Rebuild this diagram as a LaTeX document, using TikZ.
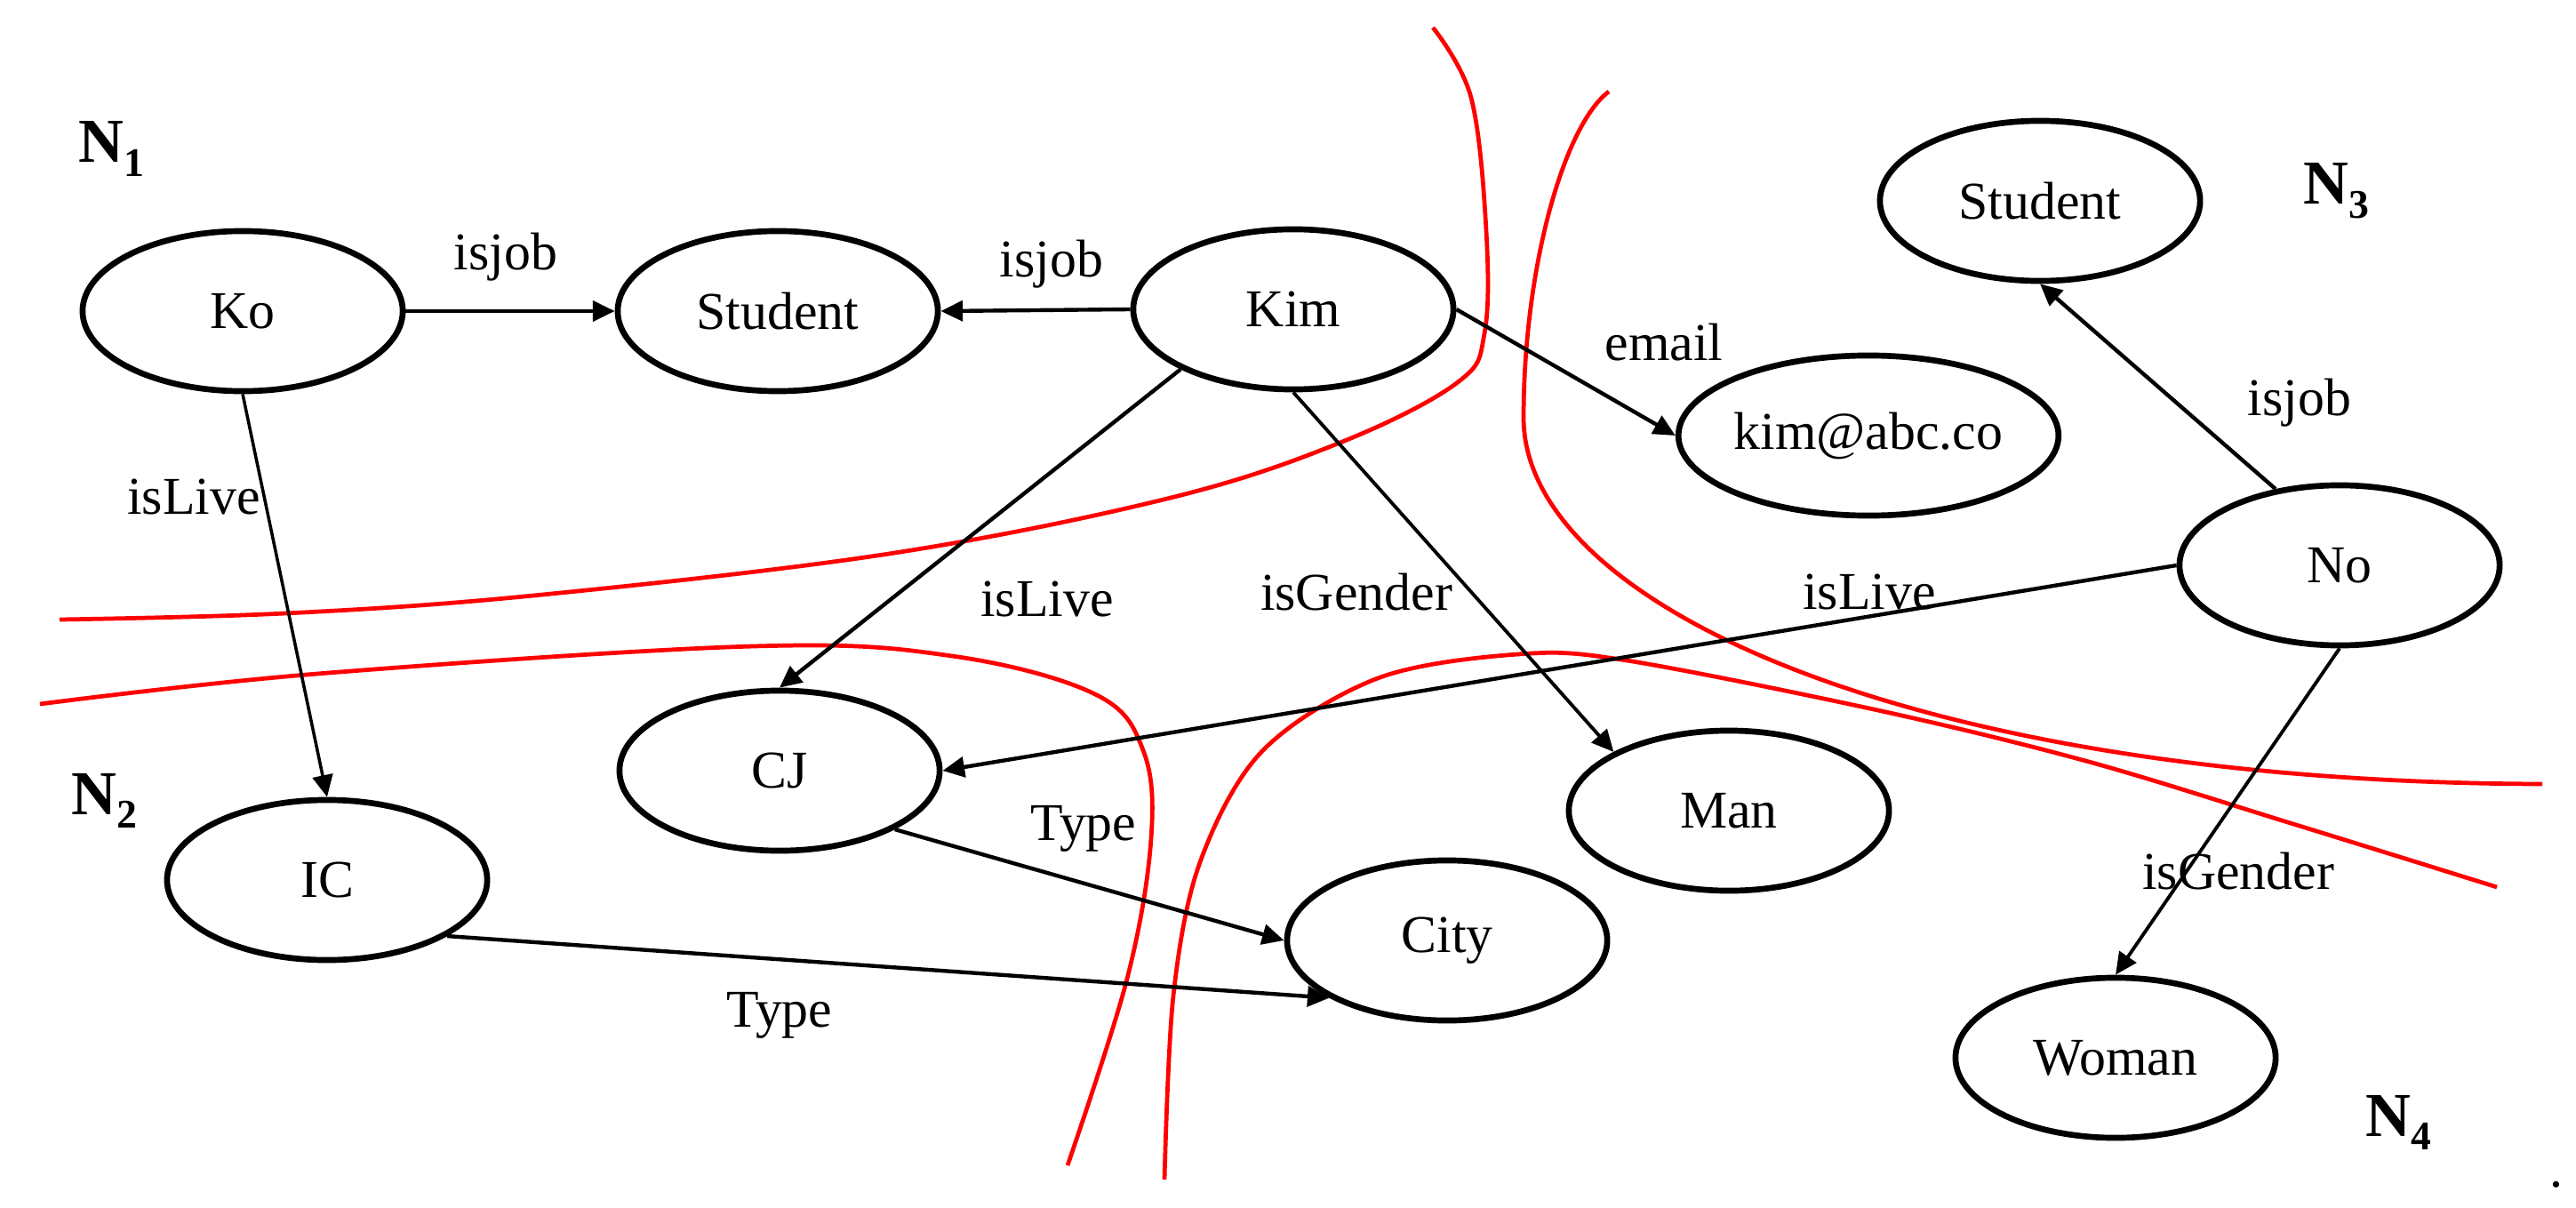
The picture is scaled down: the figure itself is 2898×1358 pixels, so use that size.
\documentclass[tikz,border=0pt]{standalone}
\usepackage{fontspec}
\setmainfont{Liberation Serif}
\usetikzlibrary{shapes.geometric,arrows.meta}
\begin{document}
\begin{tikzpicture}[x=0.01cm,y=-0.01cm,
 ent/.style={ellipse,draw,line width=1.9pt,minimum width=3.6cm,minimum height=1.8cm,inner sep=0pt,font=\fontsize{17}{20}\selectfont},
 rel/.style={line width=1.25pt,-{Triangle[length=7pt,width=6.5pt]}},
 lbl/.style={anchor=base,inner sep=0pt,font=\fontsize{17}{20}\selectfont},
 part/.style={anchor=base west,inner sep=0pt,font=\fontsize{20}{24}\selectfont\bfseries},
 cut/.style={red,line width=1.35pt}]
\newcommand{\subn}[1]{\raisebox{-0.22em}{\fontsize{13}{13}\selectfont\bfseries #1}}
\useasboundingbox (0,0) rectangle (2898,1358);

% red partition curves
\draw[cut] plot[smooth,tension=0.6] coordinates {(1612,31) (1655,110) (1672,260) (1670,375) (1640,430) (1510,497) (1317,560) (1000,623) (600,670) (321,690) (67,697)};
\draw[cut] (1810,103) .. controls (1760,140) and (1714,300) .. (1714,470) .. controls (1714,680) and (2150,880) .. (2860,882);
\draw[cut] plot[smooth,tension=0.6] coordinates {(45,792) (357,758) (848,727) (1071,738) (1232,781) (1286,844) (1295,943) (1268,1101) (1201,1311)};
\draw[cut] plot[smooth,tension=0.55] coordinates {(1310,1327) (1320,1120) (1350,970) (1420,845) (1550,763) (1708,736) (1830,743) (2117,800) (2350,857) (2580,927) (2809,998)};

% entities
\node[ent] (ko) at (273,350) {Ko};
\node[ent] (st1) at (875,350) {Student};
\node[ent] (kim) at (1455,348) {Kim};
\node[ent] (mail) at (2102,490) {kim@abc.co};
\node[ent] (st3) at (2295,226) {Student};
\node[ent] (no) at (2632,636) {No};
\node[ent] (cj) at (877,867) {CJ};
\node[ent] (ic) at (368,990) {IC};
\node[ent] (city) at (1628,1058) {City};
\node[ent] (man) at (1945,912) {Man};
\node[ent] (woman) at (2380,1190) {Woman};

% relations
\draw[rel] (ko.east) -- (st1.west);
\draw[rel] (kim.west) -- (st1.east);
\draw[rel] (kim.east) -- (mail.west);
\draw[rel,line width=1pt] (ko.south) -- (ic.north);
\draw[rel] (kim.208) -- (cj.north);
\draw[rel,line width=1.1pt] (kim.south) -- (man.153);
\draw[rel] (no.west) -- (cj.east);
\draw[rel] (no.130) -- (st3.south);
\draw[rel,line width=1.1pt] (no.south) -- (woman.north);
\draw[rel] (cj.-27) -- (city.west);
\draw[rel] (ic.-25) -- (city.206);

% relation labels
\node[lbl] (l1) at (569,304) {isjob};
\node[lbl] (l2) at (1183,311) {isjob};
\node[lbl] (l3) at (1872,406) {email};
\node[lbl] (l4) at (218,578) {isLive};
\node[lbl] (l5) at (1178,693) {isLive};
\node[lbl] (l6) at (1526,686) {isGender};
\node[lbl] (l7) at (2103,685) {isLive};
\node[lbl] (l8) at (2587,467) {isjob};
\node[lbl] (l9) at (2518,1000) {isGender};
\node[lbl] (l10) at (1219,945) {Type};
\node[lbl] (l11) at (877,1155) {Type};

% partition names
\node[part] (n1) at (88,183) {N\subn{1}};
\node[part] (n2) at (80,916) {N\subn{2}};
\node[part] (n3) at (2591,230) {N\subn{3}};
\node[part] (n4) at (2661,1278) {N\subn{4}};
\node[lbl] (dot) at (2876,1335) {.};
\end{tikzpicture}
\end{document}
